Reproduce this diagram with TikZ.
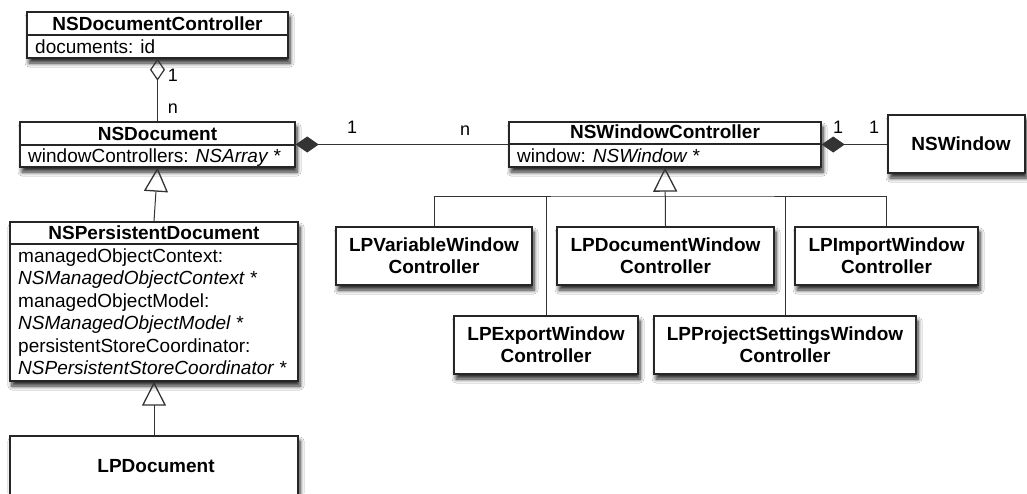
\documentclass[tikz,border=0pt]{standalone}
\usepackage{fontspec}
\setmainfont{Liberation Sans}
\usetikzlibrary{arrows.meta,shadows.blur}
\begin{document}
\begin{tikzpicture}[x=1pt,y=-1pt,
 cls/.style={draw=black!85, line width=1.4pt, fill=white, rectangle, inner sep=0pt,
   blur shadow={shadow xshift=2pt, shadow yshift=-5pt, shadow blur radius=4pt, shadow blur steps=6, shadow opacity=85}},
 ttl/.style={font=\fontsize{19}{22}\selectfont\bfseries, inner sep=0pt, anchor=base},
 att/.style={font=\fontsize{19}{22}\selectfont, inner sep=0pt, anchor=base west},
 lp/.style={font=\fontsize{19}{22}\selectfont\bfseries, align=center, inner sep=0pt},
 lbl/.style={font=\fontsize{18}{20}\selectfont, inner sep=0pt, anchor=base},
 conn/.style={draw=black!80, line width=1pt},
 dv/.style={draw=black!85, line width=1.1pt},
 agg/.style={conn, {Diamond[open, length=22pt, width=15pt, line width=1.2pt]}-},
 comp/.style={conn, {Diamond[length=23pt, width=16pt]}-},
 gen/.style={conn, -{Triangle[open, length=24pt, width=24pt, line width=1.3pt]}},
]
\useasboundingbox (0,0) rectangle (1027,493);
\fill[white] (0,0) rectangle (1027,493);

% class boxes
\node[cls, minimum width=261pt, minimum height=46pt] (ndc) at (157.5,35) {};
\node[cls, minimum width=275pt, minimum height=45pt] (nd) at (157.5,144.5) {};
\node[cls, minimum width=288pt, minimum height=159pt] (npd) at (154,301.5) {};
\node[cls, minimum width=288pt, minimum height=84pt] (lpd) at (154,478) {};
\node[cls, minimum width=312pt, minimum height=45pt] (nwc) at (665,144.5) {};
\node[cls, minimum width=137pt, minimum height=58pt] (nw) at (956.5,144) {};
\node[cls, minimum width=196pt, minimum height=58pt] (lpvwc) at (434,256) {};
\node[cls, minimum width=217pt, minimum height=58pt] (lpdwc) at (665.5,256) {};
\node[cls, minimum width=183pt, minimum height=58pt] (lpiwc) at (886.5,256) {};
\node[cls, minimum width=184pt, minimum height=58pt] (lpewc) at (546,345) {};
\node[cls, minimum width=262pt, minimum height=58pt] (lppswc) at (785,345) {};

% dividers
\draw[dv] (ndc.west |- 0,35) -- (ndc.east |- 0,35);
\draw[dv] (nd.west |- 0,145) -- (nd.east |- 0,145);
\draw[dv] (npd.west |- 0,244) -- (npd.east |- 0,244);
\draw[dv] (nwc.west |- 0,144) -- (nwc.east |- 0,144);

% texts
\node[ttl] (ndct) at (157.5,30) {NSDocumentController};
\node[att] (ndca) at (35,53) {documents: id};
\node[ttl] (ndt) at (157.5,140) {NSDocument};
\node[att] (nda) at (28,162) {windowControllers: \itshape NSArray *};
\node[ttl] (npdt) at (154,239) {NSPersistentDocument};
\node[att] (npa1) at (18,262) {managedObjectContext:};
\node[att] (npa2) at (18,284) {\itshape NSManagedObjectContext *};
\node[att] (npa3) at (18,307) {managedObjectModel:};
\node[att] (npa4) at (18,329) {\itshape NSManagedObjectModel *};
\node[att] (npa5) at (18,352) {persistentStoreCoordinator:};
\node[att] (npa6) at (18,374) {\itshape NSPersistentStoreCoordinator *};
\node[ttl] (lpdt) at (156,472) {LPDocument};
\node[ttl] (nwct) at (665,138) {NSWindowController};
\node[att] (nwca) at (517,162) {window: \itshape NSWindow *};
\node[ttl] (nwt) at (961,150) {NSWindow};
\node[lp] (lpvwct) at (lpvwc.center) {LPVariableWindow\\Controller};
\node[lp] (lpdwct) at (lpdwc.center) {LPDocumentWindow\\Controller};
\node[lp] (lpiwct) at (lpiwc.center) {LPImportWindow\\Controller};
\node[lp] (lpewct) at (lpewc.center) {LPExportWindow\\Controller};
\node[lp] (lppswct) at (lppswc.center) {LPProjectSettingsWindow\\Controller};

% connectors
\draw[agg] (ndc.south) -- (nd.north);
\node[lbl] (l1) at (173,81) {1};
\node[lbl] (l2) at (173,113) {n};
\draw[comp] (nd.east) -- (nd.east -| nwc.west);
\node[lbl] (l3) at (352,133) {1};
\node[lbl] (l4) at (465,135) {n};
\draw[comp] (nwc.east) -- (nwc.east -| nw.west);
\node[lbl] (l5) at (838,133) {1};
\node[lbl] (l6) at (874,133) {1};
\draw[gen] (npd.north) -- (nd.south);
\draw[gen] (lpd.north) -- (npd.south);
\draw[gen] (lpdwc.north) -- (nwc.south);
\coordinate (bar) at (665,196);
\draw[conn] (lpvwc.north) |- (bar) -| (lpiwc.north);
\draw[conn] (lpewc.north) -- (lpewc.north |- bar);
\draw[conn] (lppswc.north) -- (lppswc.north |- bar);
\end{tikzpicture}
\end{document}
